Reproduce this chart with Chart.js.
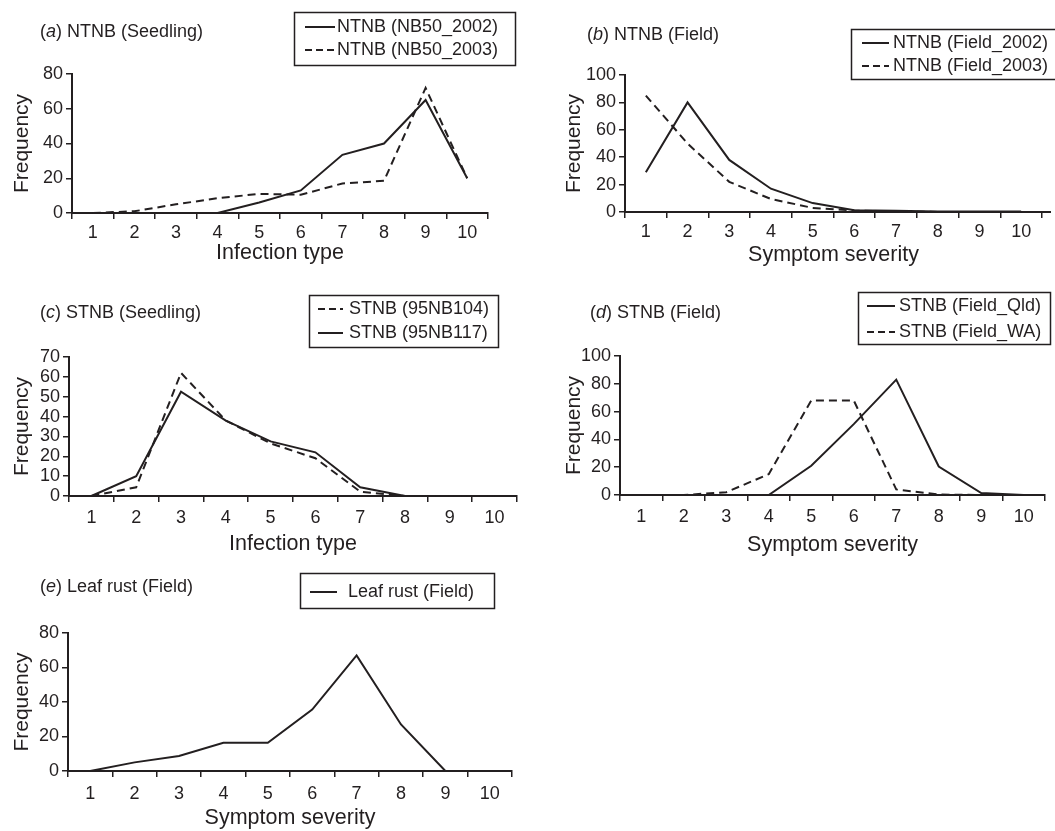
<!DOCTYPE html>
<html>
<head>
<meta charset="utf-8">
<script src="https://cdn.jsdelivr.net/npm/chart.js@4.4.0/dist/chart.umd.min.js"></script>
<style>
  html, body { margin: 0; padding: 0; background: #fff; }
  body { width: 1055px; height: 831px; position: relative; overflow: hidden; }
  .panel { position: absolute; }
</style>
</head>
<body>
<div class="panel" style="left:0;top:0;width:527px;height:270px"><canvas id="chartA"></canvas></div>
<div class="panel" style="left:527px;top:0;width:528px;height:270px"><canvas id="chartB"></canvas></div>
<div class="panel" style="left:0;top:270px;width:527px;height:292px"><canvas id="chartC"></canvas></div>
<div class="panel" style="left:527px;top:270px;width:528px;height:292px"><canvas id="chartD"></canvas></div>
<div class="panel" style="left:0;top:550px;width:527px;height:281px"><canvas id="chartE"></canvas></div>
<script>
// categories (1..10) shared by every panel
const classes = ['1', '2', '3', '4', '5', '6', '7', '8', '9', '10'];

// (a) NTNB seedling, infection type
const ntnbNB50_2002 = [0, 0, 0, 0, 6, 13, 33.5, 40, 65, 20];
const ntnbNB50_2003 = [0, 1, 5, 8.5, 11, 10.5, 17, 18.5, 72, 20];
// (b) NTNB field, symptom severity
const ntnbField2002 = [29, 80, 38, 17, 6.5, 1.2, 1, 0.3, 0.3, 0.3];
const ntnbField2003 = [85, 50, 22, 9.5, 3, 1, 0.5, 0, 0, 0];
// (c) STNB seedling, infection type
const stnb95NB104 = [0, 4.4, 62, 38, 26.5, 19, 2.2, 0, 0, 0];
const stnb95NB117 = [0, 10, 52.5, 38, 27.5, 22, 4.4, 0, 0, 0];
// (d) STNB field, symptom severity
const stnbFieldQld = [0, 0, 0, 0, 21, 51, 83, 20.5, 1.4, 0];
const stnbFieldWA = [0, 0, 2, 15, 68, 68, 4, 0.3, 0, 0];
// (e) leaf rust field
const leafRustField = [0, 5, 8.7, 16.4, 16.4, 35.6, 67, 27, 0, 0];

// y axis ranges
const yMaxA = 80, yStepA = 20;
const yMaxB = 100, yStepB = 20;
const yMaxC = 70, yStepC = 10;
const yMaxD = 100, yStepD = 20;
const yMaxE = 80, yStepE = 20;

const INK = '#231f20';
const FONT = '"Liberation Sans", Arial, Helvetica, sans-serif';
const DASH = [8, 5];

const panelDecor = {
  id: 'panelDecor',
  afterDraw(chart, args, opts) {
    const ctx = chart.ctx;
    ctx.save();
    ctx.textBaseline = 'middle';
    ctx.textAlign = 'left';
    ctx.fillStyle = INK;
    let x = opts.titleX;
    opts.title.forEach((part, i) => {
      ctx.font = (i === 1 ? 'italic ' : '') + '18px ' + FONT;
      ctx.fillText(part, x, opts.titleY);
      x += ctx.measureText(part).width;
    });

    // the x axis runs a little past the last tick in panel (b)
    if (opts.axisExtend) {
      const a = chart.chartArea;
      ctx.strokeStyle = INK;
      ctx.lineWidth = 2;
      ctx.beginPath();
      ctx.moveTo(a.right, a.bottom);
      ctx.lineTo(a.right + opts.axisExtend, a.bottom);
      ctx.stroke();
    }

    const b = opts.box;
    ctx.fillStyle = '#fff';
    ctx.fillRect(b.x, b.y, b.w, b.h);
    ctx.strokeStyle = INK;
    ctx.lineWidth = 1.5;
    ctx.strokeRect(b.x + 0.5, b.y + 0.5, b.w, b.h);

    chart.data.datasets.forEach((ds, i) => {
      const y = b.rows[i];
      ctx.setLineDash(ds.borderDash && ds.borderDash.length ? [7, 4] : []);
      ctx.lineWidth = 2;
      ctx.beginPath();
      ctx.moveTo(b.lineX, y);
      ctx.lineTo(b.lineX + b.lineW, y);
      ctx.stroke();
      ctx.setLineDash([]);
      ctx.fillStyle = INK;
      ctx.font = '18px ' + FONT;
      ctx.fillText(ds.label, b.textX, y);
    });
    ctx.restore();
  }
};

function series(label, values, dashed) {
  return {
    label: label,
    data: values,
    borderColor: INK,
    borderWidth: 2,
    borderDash: dashed ? DASH : [],
    pointRadius: 0,
    tension: 0,
    fill: false,
    clip: false
  };
}

function buildPanel(id, datasets, yMax, yStep, xTitle, g, decor) {
  const padLeft = g.yTitleX - 12.6;
  const xHeight = g.xTitleOff + 12.6;
  const cv = document.getElementById(id);
  const W = cv.parentNode.clientWidth, H = cv.parentNode.clientHeight;
  new Chart(cv.getContext('2d'), {
    type: 'line',
    data: { labels: classes, datasets: datasets },
    options: {
      responsive: true,
      maintainAspectRatio: false,
      animation: false,
      layout: {
        padding: { left: padLeft, right: W - g.right, top: g.top, bottom: H - g.bottom - xHeight }
      },
      plugins: {
        legend: { display: false },
        tooltip: { enabled: false },
        panelDecor: decor
      },
      scales: {
        x: {
          type: 'category',
          offset: true,
          grid: { offset: true, drawOnChartArea: false, drawTicks: true, tickLength: 6, color: INK, lineWidth: 1.5 },
          border: { color: INK, width: 2 },
          ticks: { color: INK, font: { family: FONT, size: 18 }, padding: g.labelPad, maxRotation: 0, autoSkip: false },
          title: { display: true, text: xTitle, color: INK, font: { family: FONT, size: 21.5 }, padding: 0 },
          afterFit(scale) { scale.height = xHeight; }
        },
        y: {
          min: 0,
          max: yMax,
          grid: { drawOnChartArea: false, drawTicks: true, tickLength: 6, color: INK, lineWidth: 1.5 },
          border: { color: INK, width: 2 },
          ticks: { stepSize: yStep, autoSkip: false, color: INK, font: { family: FONT, size: 18 }, padding: 3 },
          title: { display: true, text: 'Frequency', color: INK, font: { family: FONT, size: 21 }, padding: 0 },
          afterFit(scale) { scale.width = g.left - padLeft; }
        }
      }
    },
    plugins: [panelDecor]
  });
}

buildPanel('chartA',
  [series('NTNB (NB50_2002)', ntnbNB50_2002, false), series('NTNB (NB50_2003)', ntnbNB50_2003, true)],
  yMaxA, yStepA, 'Infection type',
  { left: 72, right: 488, top: 74, bottom: 213, yTitleX: 22, xTitleOff: 40, labelPad: 3 },
  { title: ['(', 'a', ') NTNB (Seedling)'], titleX: 40, titleY: 32,
    box: { x: 294, y: 12, w: 221, h: 53, rows: [27, 50], lineX: 305, lineW: 30, textX: 337 } });

buildPanel('chartB',
  [series('NTNB (Field_2002)', ntnbField2002, false), series('NTNB (Field_2003)', ntnbField2003, true)],
  yMaxB, yStepB, 'Symptom severity',
  { left: 98, right: 515, top: 75, bottom: 212, yTitleX: 47, xTitleOff: 43, labelPad: 3 },
  { title: ['(', 'b', ') NTNB (Field)'], titleX: 60, titleY: 35, axisExtend: 9,
    box: { x: 324, y: 29, w: 210, h: 50, rows: [43, 66], lineX: 335, lineW: 27, textX: 366 } });

buildPanel('chartC',
  [series('STNB (95NB104)', stnb95NB104, true), series('STNB (95NB117)', stnb95NB117, false)],
  yMaxC, yStepC, 'Infection type',
  { left: 69, right: 517, top: 87, bottom: 226, yTitleX: 22, xTitleOff: 48, labelPad: 5 },
  { title: ['(', 'c', ') STNB (Seedling)'], titleX: 40, titleY: 43,
    box: { x: 309, y: 25, w: 189, h: 52, rows: [39, 63], lineX: 318, lineW: 25, textX: 349 } });

buildPanel('chartD',
  [series('STNB (Field_Qld)', stnbFieldQld, false), series('STNB (Field_WA)', stnbFieldWA, true)],
  yMaxD, yStepD, 'Symptom severity',
  { left: 93, right: 518, top: 86, bottom: 225, yTitleX: 47, xTitleOff: 50, labelPad: 5 },
  { title: ['(', 'd', ') STNB (Field)'], titleX: 63, titleY: 43,
    box: { x: 331, y: 22, w: 192, h: 52, rows: [36, 62], lineX: 340, lineW: 28, textX: 372 } });

buildPanel('chartE',
  [series('Leaf rust (Field)', leafRustField, false)],
  yMaxE, yStepE, 'Symptom severity',
  { left: 68, right: 512, top: 83, bottom: 221, yTitleX: 22, xTitleOff: 47, labelPad: 6 },
  { title: ['(', 'e', ') Leaf rust (Field)'], titleX: 40, titleY: 37,
    box: { x: 300, y: 23, w: 194, h: 35, rows: [42], lineX: 310, lineW: 27, textX: 348 } });
</script>
</body>
</html>
